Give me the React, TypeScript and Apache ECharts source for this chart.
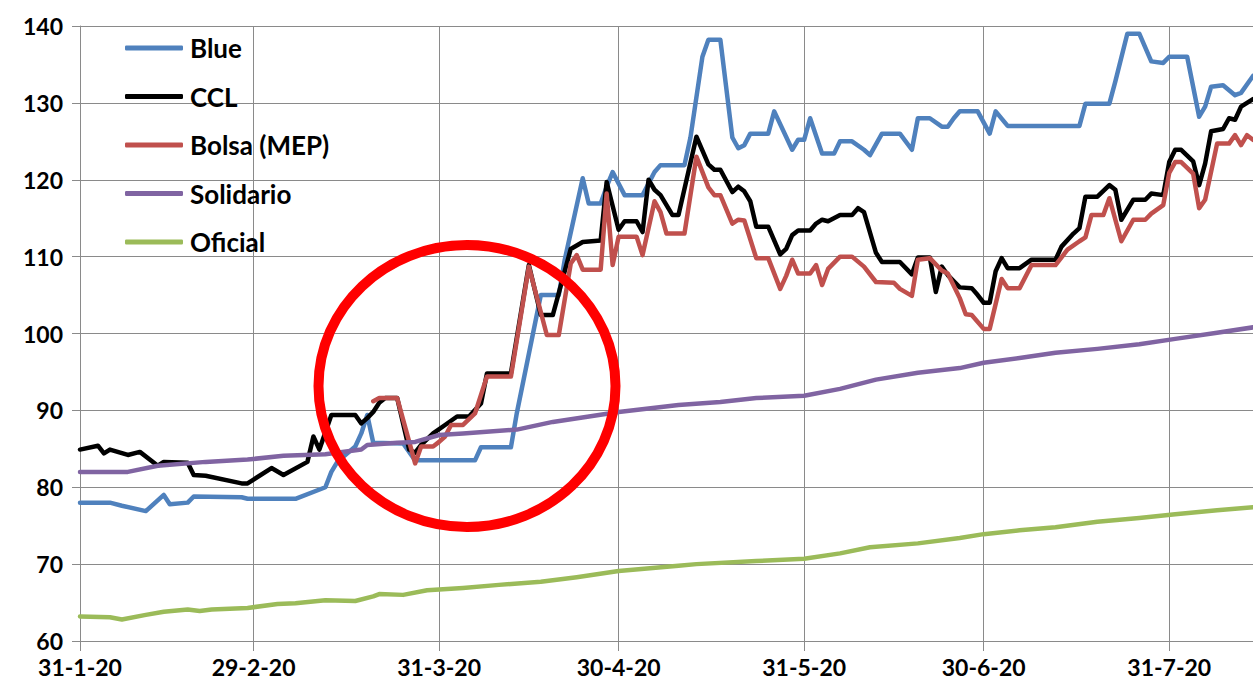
import React, { useEffect, useRef } from "react";
import * as echarts from "echarts";

// Calendar days shown on the x axis (31-1-20 .. 14-8-20)
const FIRST_DAY = { y: 2020, m: 0, d: 31 };
const DAY_COUNT = 197;
const categories: string[] = [];
for (let i = 0; i < DAY_COUNT; i++) {
  const dt = new Date(FIRST_DAY.y, FIRST_DAY.m, FIRST_DAY.d + i);
  categories.push(`${dt.getDate()}-${dt.getMonth() + 1}-20`);
}

const tickLabels = ["31-1-20", "29-2-20", "31-3-20", "30-4-20", "31-5-20", "30-6-20", "31-7-20"];

const blue: [string, number][] = [
  ["31-1-20", 78.0], ["5-2-20", 78.0], ["7-2-20", 77.6], ["11-2-20", 76.9], ["14-2-20", 79.0],
  ["15-2-20", 77.8], ["18-2-20", 78.0], ["19-2-20", 78.8], ["27-2-20", 78.7], ["28-2-20", 78.5],
  ["7-3-20", 78.5], ["12-3-20", 80.0], ["13-3-20", 82.0], ["14-3-20", 83.3], ["17-3-20", 85.3],
  ["18-3-20", 87.0], ["19-3-20", 89.4], ["20-3-20", 85.8], ["25-3-20", 85.7], ["27-3-20", 83.5],
  ["6-4-20", 83.5], ["7-4-20", 85.2], ["12-4-20", 85.2], ["13-4-20", 89.7], ["17-4-20", 105.0],
  ["20-4-20", 105.0], ["21-4-20", 109.6], ["24-4-20", 120.2], ["25-4-20", 116.9], ["27-4-20", 116.9],
  ["28-4-20", 119.1], ["29-4-20", 121.0], ["1-5-20", 118.0], ["4-5-20", 118.0], ["6-5-20", 121.0],
  ["7-5-20", 121.9], ["11-5-20", 121.9], ["12-5-20", 125.5], ["14-5-20", 136.0], ["15-5-20", 138.2],
  ["17-5-20", 138.2], ["19-5-20", 125.5], ["20-5-20", 124.1], ["21-5-20", 124.5], ["22-5-20", 126.0],
  ["25-5-20", 126.0], ["26-5-20", 128.9], ["29-5-20", 123.9], ["30-5-20", 125.2], ["31-5-20", 125.2],
  ["1-6-20", 128.0], ["3-6-20", 123.4], ["5-6-20", 123.4], ["6-6-20", 125.0], ["8-6-20", 125.0],
  ["10-6-20", 123.9], ["11-6-20", 123.2], ["13-6-20", 126.0], ["16-6-20", 126.0], ["18-6-20", 123.9],
  ["19-6-20", 128.0], ["21-6-20", 128.0], ["23-6-20", 126.9], ["24-6-20", 126.9], ["25-6-20", 128.0],
  ["26-6-20", 128.9], ["29-6-20", 128.9], ["1-7-20", 126.0], ["2-7-20", 128.9], ["4-7-20", 127.0],
  ["16-7-20", 127.0], ["17-7-20", 129.9], ["21-7-20", 129.9], ["22-7-20", 132.8], ["24-7-20", 139.0],
  ["26-7-20", 139.0], ["28-7-20", 135.4], ["30-7-20", 135.2], ["31-7-20", 136.0], ["3-8-20", 136.0],
  ["5-8-20", 128.2], ["6-8-20", 129.5], ["7-8-20", 132.1], ["9-8-20", 132.3], ["11-8-20", 131.0],
  ["12-8-20", 131.3], ["14-8-20", 133.5],
];

const ccl: [string, number][] = [
  ["31-1-20", 84.9], ["3-2-20", 85.4], ["4-2-20", 84.4], ["5-2-20", 84.9], ["8-2-20", 84.2],
  ["10-2-20", 84.6], ["13-2-20", 82.8], ["14-2-20", 83.3], ["18-2-20", 83.2], ["19-2-20", 81.6],
  ["21-2-20", 81.5], ["27-2-20", 80.5], ["28-2-20", 80.5], ["29-2-20", 81.0], ["3-3-20", 82.5],
  ["5-3-20", 81.6], ["9-3-20", 83.3], ["10-3-20", 86.6], ["11-3-20", 84.9], ["13-3-20", 89.4],
  ["17-3-20", 89.4], ["18-3-20", 88.3], ["19-3-20", 89.0], ["20-3-20", 89.8], ["21-3-20", 91.0],
  ["22-3-20", 91.6], ["24-3-20", 91.6], ["26-3-20", 84.9], ["27-3-20", 84.5], ["28-3-20", 85.5],
  ["30-3-20", 87.0], ["1-4-20", 88.1], ["3-4-20", 89.2], ["5-4-20", 89.2], ["7-4-20", 90.9],
  ["8-4-20", 94.8], ["12-4-20", 94.8], ["15-4-20", 108.9], ["17-4-20", 102.4], ["19-4-20", 102.4],
  ["22-4-20", 111.0], ["24-4-20", 111.9], ["27-4-20", 112.1], ["28-4-20", 119.7], ["30-4-20", 113.5],
  ["1-5-20", 114.6], ["3-5-20", 114.6], ["4-5-20", 113.2], ["5-5-20", 120.0], ["6-5-20", 118.7],
  ["7-5-20", 118.0], ["9-5-20", 115.4], ["10-5-20", 115.4], ["13-5-20", 125.6], ["15-5-20", 122.0],
  ["16-5-20", 121.3], ["17-5-20", 121.3], ["19-5-20", 118.4], ["20-5-20", 119.1], ["21-5-20", 118.5],
  ["22-5-20", 117.2], ["23-5-20", 113.9], ["25-5-20", 113.9], ["27-5-20", 110.3], ["28-5-20", 111.0],
  ["29-5-20", 112.8], ["30-5-20", 113.4], ["1-6-20", 113.4], ["2-6-20", 114.3], ["3-6-20", 114.8],
  ["4-6-20", 114.6], ["6-6-20", 115.4], ["8-6-20", 115.4], ["9-6-20", 116.3], ["10-6-20", 115.8],
  ["12-6-20", 110.5], ["13-6-20", 109.3], ["16-6-20", 109.3], ["18-6-20", 107.7], ["19-6-20", 109.9],
  ["21-6-20", 109.9], ["22-6-20", 105.4], ["23-6-20", 108.7], ["24-6-20", 107.6], ["26-6-20", 106.0],
  ["28-6-20", 105.9], ["29-6-20", 105.0], ["30-6-20", 104.0], ["1-7-20", 104.0], ["2-7-20", 108.1],
  ["3-7-20", 109.8], ["4-7-20", 108.5], ["6-7-20", 108.5], ["8-7-20", 109.6], ["12-7-20", 109.6],
  ["13-7-20", 111.3], ["15-7-20", 113.0], ["16-7-20", 113.7], ["17-7-20", 117.8], ["19-7-20", 117.8],
  ["21-7-20", 119.3], ["22-7-20", 118.7], ["23-7-20", 114.8], ["25-7-20", 117.4], ["27-7-20", 117.4],
  ["28-7-20", 118.2], ["30-7-20", 118.0], ["31-7-20", 122.3], ["1-8-20", 123.9], ["2-8-20", 123.9],
  ["4-8-20", 122.4], ["5-8-20", 119.3], ["6-8-20", 122.1], ["7-8-20", 126.3], ["9-8-20", 126.6],
  ["10-8-20", 128.0], ["11-8-20", 127.8], ["12-8-20", 129.5], ["14-8-20", 130.5],
];

const bolsa: [string, number][] = [
  ["20-3-20", 91.2], ["21-3-20", 91.6], ["24-3-20", 91.6], ["27-3-20", 83.1], ["28-3-20", 85.3],
  ["30-3-20", 85.3], ["31-3-20", 85.9], ["1-4-20", 86.6], ["2-4-20", 88.1], ["4-4-20", 88.1],
  ["6-4-20", 89.6], ["8-4-20", 94.4], ["12-4-20", 94.4], ["15-4-20", 108.7], ["18-4-20", 99.8],
  ["20-4-20", 99.8], ["22-4-20", 109.1], ["23-4-20", 110.2], ["24-4-20", 108.3], ["27-4-20", 108.3],
  ["28-4-20", 118.2], ["29-4-20", 108.9], ["30-4-20", 112.6], ["3-5-20", 112.6], ["4-5-20", 110.2],
  ["6-5-20", 117.2], ["7-5-20", 115.8], ["8-5-20", 113.0], ["11-5-20", 113.0], ["13-5-20", 123.0],
  ["15-5-20", 119.0], ["16-5-20", 118.0], ["17-5-20", 118.0], ["19-5-20", 114.3], ["20-5-20", 114.8],
  ["21-5-20", 114.7], ["23-5-20", 109.8], ["25-5-20", 109.8], ["27-5-20", 105.8], ["28-5-20", 107.5],
  ["29-5-20", 109.6], ["30-5-20", 107.8], ["1-6-20", 107.8], ["2-6-20", 108.9], ["3-6-20", 106.3],
  ["4-6-20", 108.4], ["6-6-20", 110.0], ["8-6-20", 110.0], ["10-6-20", 108.7], ["12-6-20", 106.7],
  ["15-6-20", 106.6], ["16-6-20", 105.8], ["18-6-20", 104.9], ["19-6-20", 109.6], ["21-6-20", 109.8],
  ["23-6-20", 108.2], ["24-6-20", 107.8], ["26-6-20", 104.6], ["27-6-20", 102.5], ["28-6-20", 102.4],
  ["30-6-20", 100.6], ["1-7-20", 100.6], ["3-7-20", 107.1], ["4-7-20", 105.9], ["6-7-20", 105.9],
  ["8-7-20", 108.9], ["12-7-20", 108.9], ["14-7-20", 110.9], ["16-7-20", 112.0], ["17-7-20", 112.5],
  ["18-7-20", 115.4], ["20-7-20", 115.4], ["21-7-20", 117.6], ["23-7-20", 112.0], ["25-7-20", 114.8],
  ["27-7-20", 114.8], ["28-7-20", 115.6], ["30-7-20", 116.7], ["31-7-20", 120.9], ["1-8-20", 122.3],
  ["2-8-20", 122.3], ["4-8-20", 120.8], ["5-8-20", 116.3], ["6-8-20", 117.4], ["8-8-20", 124.7],
  ["10-8-20", 124.7], ["11-8-20", 125.8], ["12-8-20", 124.5], ["13-8-20", 125.8], ["14-8-20", 125.2],
];

const solidario: [string, number][] = [
  ["31-1-20", 82.0], ["8-2-20", 82.0], ["13-2-20", 82.8], ["21-2-20", 83.3], ["28-2-20", 83.6],
  ["5-3-20", 84.1], ["12-3-20", 84.3], ["18-3-20", 84.9], ["19-3-20", 85.5], ["24-3-20", 85.8],
  ["27-3-20", 85.9], ["31-3-20", 86.8], ["4-4-20", 87.0], ["13-4-20", 87.5], ["19-4-20", 88.5],
  ["30-4-20", 89.8], ["10-5-20", 90.7], ["17-5-20", 91.1], ["23-5-20", 91.6], ["31-5-20", 91.9],
  ["6-6-20", 92.8], ["12-6-20", 94.0], ["19-6-20", 94.9], ["26-6-20", 95.5], ["30-6-20", 96.2],
  ["6-7-20", 96.8], ["12-7-20", 97.5], ["19-7-20", 98.0], ["26-7-20", 98.6], ["1-8-20", 99.3],
  ["8-8-20", 100.1], ["14-8-20", 100.8],
];

const oficial: [string, number][] = [
  ["31-1-20", 63.2], ["5-2-20", 63.1], ["7-2-20", 62.8], ["11-2-20", 63.4], ["14-2-20", 63.8],
  ["18-2-20", 64.1], ["20-2-20", 63.9], ["22-2-20", 64.1], ["28-2-20", 64.3], ["4-3-20", 64.8],
  ["7-3-20", 64.9], ["12-3-20", 65.3], ["17-3-20", 65.2], ["20-3-20", 65.8], ["21-3-20", 66.1],
  ["25-3-20", 66.0], ["29-3-20", 66.6], ["4-4-20", 66.9], ["10-4-20", 67.3], ["17-4-20", 67.7],
  ["23-4-20", 68.3], ["30-4-20", 69.1], ["10-5-20", 69.8], ["13-5-20", 70.0], ["23-5-20", 70.4],
  ["31-5-20", 70.7], ["6-6-20", 71.4], ["11-6-20", 72.2], ["19-6-20", 72.7], ["26-6-20", 73.4],
  ["30-6-20", 73.9], ["6-7-20", 74.4], ["12-7-20", 74.8], ["19-7-20", 75.5], ["26-7-20", 76.0],
  ["1-8-20", 76.5], ["8-8-20", 77.0], ["14-8-20", 77.4],
];

const seriesNames = ["Blue", "CCL", "Bolsa (MEP)", "Solidario", "Oficial"];
const seriesColors = ["#4F81BD", "#000000", "#C0504D", "#8064A2", "#9BBB59"];
const seriesData = [blue, ccl, bolsa, solidario, oficial];

const GRID_COLOR = "#8a8a8a";
const FONT = "Lato, 'Noto Sans', sans-serif";

export default function App() {
  const ref = useRef<HTMLDivElement>(null);
  useEffect(() => {
    if (!ref.current) return;
    const chart = echarts.init(ref.current, null, { renderer: "svg" });
    const isTick = (_i: number, v: string) => tickLabels.includes(v);
    chart.setOption({
      animation: false,
      backgroundColor: "#ffffff",
      grid: { left: 80, top: 26, width: 1173, height: 615, containLabel: false },
      legend: {
        orient: "vertical",
        left: 125,
        top: 34,
        padding: 0,
        icon: "roundRect",
        itemWidth: 58,
        itemHeight: 5,
        itemGap: 20.5,
        data: seriesNames,
        textStyle: {
          fontFamily: FONT,
          fontWeight: "bold",
          fontSize: 26,
          color: "#000",
          lineHeight: 28,
          padding: [0, 0, 0, 2],
        },
      },
      xAxis: {
        type: "category",
        data: categories,
        boundaryGap: false,
        axisLine: { show: true, lineStyle: { color: GRID_COLOR, width: 1 } },
        axisTick: { show: true, length: 10, interval: isTick, lineStyle: { color: GRID_COLOR, width: 1 } },
        axisLabel: {
          interval: isTick,
          fontFamily: FONT,
          fontWeight: "bold",
          fontSize: 23,
          lineHeight: 16,
          color: "#000",
          margin: 18,
          hideOverlap: false,
        },
        splitLine: { show: true, interval: isTick, lineStyle: { color: GRID_COLOR, width: 1 } },
      },
      yAxis: {
        type: "value",
        min: 60,
        max: 140,
        interval: 10,
        axisLine: { show: true, lineStyle: { color: GRID_COLOR, width: 1 } },
        axisTick: { show: true, length: 8, lineStyle: { color: GRID_COLOR, width: 1 } },
        axisLabel: {
          fontFamily: FONT,
          fontWeight: "bold",
          fontSize: 23,
          lineHeight: 16,
          color: "#000",
          margin: 17,
        },
        splitLine: { show: true, lineStyle: { color: GRID_COLOR, width: 1 } },
      },
      series: seriesNames.map((name, i) => ({
        type: "line",
        name,
        data: seriesData[i],
        showSymbol: false,
        symbol: "none",
        lineStyle: { color: seriesColors[i], width: 4.5, join: "round", cap: "round" },
        itemStyle: { color: seriesColors[i] },
        emphasis: { disabled: true },
        z: 2 + i,
      })),
      graphic: [
        {
          type: "ellipse",
          shape: { cx: 467, cy: 386, rx: 148.5, ry: 141 },
          style: { fill: "none", stroke: "#FF0000", lineWidth: 10 },
          z: 100,
        },
      ],
    });
    return () => chart.dispose();
  }, []);
  return (
    <div
      ref={ref}
      style={{ position: "absolute", left: 0, top: 0, width: 1253, height: 690, background: "#fff" }}
    />
  );
}
